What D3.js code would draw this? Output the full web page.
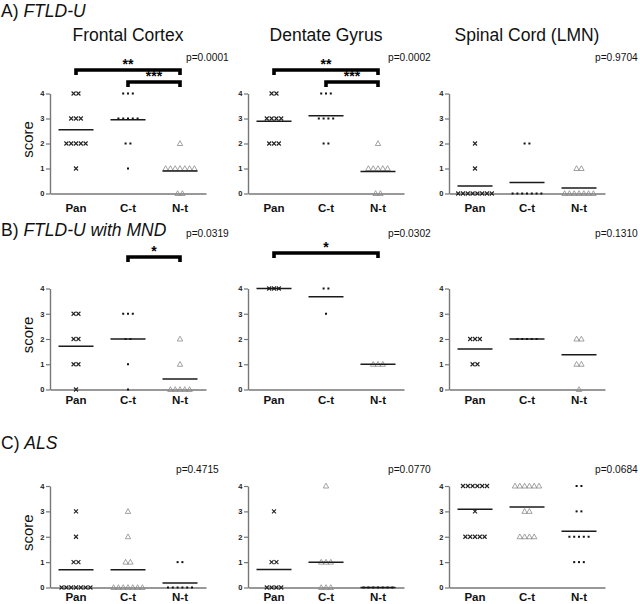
<!DOCTYPE html>
<html><head><meta charset="utf-8">
<script src="https://cdn.jsdelivr.net/npm/d3@7/dist/d3.min.js"></script>
<style>body{margin:0;background:#fff}svg{display:block;font-family:Arial,"Liberation Sans",sans-serif}</style>
</head><body>
<script>
// ---------- data ----------
const rowLetters = ["A)", "B)", "C)"];
const rowNames = ["FTLD-U", "FTLD-U with MND", "ALS"];
const regions = ["Frontal Cortex", "Dentate Gyrus", "Spinal Cord (LMN)"];
const groups = ["Pan", "C-t", "N-t"];
const yTicks = [0, 1, 2, 3, 4];
const pValues = [
  ["p=0.0001", "p=0.0002", "p=0.9704"],
  ["p=0.0319", "p=0.0302", "p=0.1310"],
  ["p=0.4715", "p=0.0770", "p=0.0684"]
];
// individual case scores per panel: [Pan, C-t, N-t]
const scoresA = [
  [[4,4,3,3,3,2,2,2,2,2,1], [4,4,4,3,3,3,3,3,2,2,1], [2,1,1,1,1,1,1,1,0,0]],
  [[4,4,3,3,3,3,2,2,2], [4,4,4,3,3,3,3,2,2], [2,1,1,1,1,1,0,0]],
  [[2,1,0,0,0,0,0,0,0,0], [2,2,0,0,0,0,0,0,0], [1,1,0,0,0,0,0,0,0]]
];
const scoresB = [
  [[3,3,2,2,1,1,0], [3,3,3,2,2,1,0], [2,1,0,0,0,0,0]],
  [[4,4,4], [4,4,3], [1,1,1]],
  [[2,2,2,1,1], [2,2,2,2,2], [2,2,1,1,0]]
];
const scoresC = [
  [[3,2,1,1,0,0,0,0,0,0,0], [3,2,1,1,0,0,0,0,0,0,0], [1,1,0,0,0,0,0,0]],
  [[3,1,1,0,0,0,0], [4,1,1,1,0,0,0], [0,0,0,0,0,0,0]],
  [[4,4,4,4,4,4,3,2,2,2,2,2], [4,4,4,4,4,4,3,3,2,2,2,2], [4,4,3,3,2,2,2,2,2,1,1,1]]
];
// group mean lines
const meansA = [[2.55, 2.95, 0.9], [2.89, 3.11, 0.88], [0.3, 0.44, 0.22]];
const meansB = [[1.71, 2.0, 0.42], [4.0, 3.67, 1.0], [1.6, 2.0, 1.38]];
const meansC = [[0.7, 0.7, 0.18], [0.71, 1.0, 0.0], [3.08, 3.17, 2.22]];
// significance brackets per panel: [from, to, label]
const bracketsA = [[["Pan","N-t","**"], ["C-t","N-t","***"]], [["Pan","N-t","**"], ["C-t","N-t","***"]], []];
const bracketsB = [[["C-t","N-t","*"]], [["Pan","N-t","*"]], []];
const bracketsC = [[], [], []];
// marker kind per group in each row
const markersA = ["cross", "dot", "tri"];
const markersB = ["cross", "dot", "tri"];
const markersC = ["cross", "tri", "dot"];

const scores = [scoresA, scoresB, scoresC];
const means = [meansA, meansB, meansC];
const brackets = [bracketsA, bracketsB, bracketsC];
const markers = [markersA, markersB, markersC];

// ---------- layout ----------
const W = 640, H = 604;
const panelX = [50, 248, 449];
const plotW = 156;
const rowAxis = [[93.5, 193.5], [288.5, 389.5], [486, 587.5]];
const rowTitleY = [11, 230, 443];
const pY = [57, 233, 469];
const pX = [[186, 388, 595], [186, 388, 595], [176, 388, 595]];
const catBase = [211.5, 403.5, 600.5];
const bracketLevels = [[70, 82], [null, null], [null, null]];
const bracketSingleB = [257, 253];

const svg = d3.select("body").append("svg").attr("width", W).attr("height", H);

rowLetters.forEach((letter, r) => {
  const t = svg.append("text").attr("x", 1).attr("y", rowTitleY[r]).attr("dy", "0.36em")
    .attr("font-size", 17.5).attr("fill", "#111");
  t.append("tspan").text(letter + " ");
  t.append("tspan").attr("font-style", "italic").text(rowNames[r]);
});

regions.forEach((reg, c) => {
  svg.append("text").attr("x", panelX[c] + 78).attr("y", 35).attr("dy", "0.36em")
    .attr("text-anchor", "middle").attr("font-size", 17.5).attr("fill", "#111").text(reg);
});

const step = 4.8;

function drawMarker(g, kind, x, y) {
  if (kind === "cross") {
    g.append("path").attr("d", `M${x-2},${y-2}L${x+2},${y+2}M${x-2},${y+2}L${x+2},${y-2}`)
      .attr("stroke", "#222").attr("stroke-width", 1.1).attr("fill", "none");
  } else if (kind === "dot") {
    g.append("rect").attr("x", x - 1).attr("y", y - 1).attr("width", 2).attr("height", 2).attr("fill", "#111");
  } else {
    g.append("path").attr("d", `M${x},${y-2.8}L${x+2.7},${y+2}L${x-2.7},${y+2}Z`)
      .attr("stroke", "#8a8a8a").attr("stroke-width", 0.8).attr("fill", "none");
  }
}

for (let r = 0; r < 3; r++) {
  for (let c = 0; c < 3; c++) {
    const g = svg.append("g");
    const x = d3.scaleBand().domain(groups).range([panelX[c], panelX[c] + plotW]);
    const y = d3.scaleLinear().domain([0, 4]).range([rowAxis[r][1], rowAxis[r][0]]);

    // y axis
    const ya = g.append("g").attr("transform", `translate(${panelX[c]},0)`)
      .call(d3.axisLeft(y).tickValues(yTicks).tickFormat(d3.format("d")).tickSize(4).tickSizeOuter(0).tickPadding(1.5));
    ya.select(".domain").attr("stroke", "#777").attr("stroke-width", 1.4);
    ya.selectAll(".tick line").attr("stroke", "#777").attr("stroke-width", 1.2);
    ya.selectAll(".tick text").attr("font-size", 7.5).attr("font-weight", "bold").attr("fill", "#222")
      .attr("font-family", "Arial, sans-serif");

    // x axis
    const xa = g.append("g").attr("transform", `translate(0,${rowAxis[r][1]})`)
      .call(d3.axisBottom(x).tickSize(0).tickSizeOuter(0));
    xa.select(".domain").attr("stroke", "#777").attr("stroke-width", 1.4);
    xa.selectAll(".tick text").attr("font-size", 11.5).attr("font-weight", "bold").attr("fill", "#111")
      .attr("font-family", "Arial, sans-serif")
      .attr("y", catBase[r] - rowAxis[r][1]).attr("dy", 0);

    // score label
    if (c === 0) {
      g.append("text").attr("transform", `translate(33,${(rowAxis[r][0] + rowAxis[r][1]) / 2 - 4}) rotate(-90)`)
        .attr("text-anchor", "middle").attr("font-size", 15).attr("fill", "#111").text("score");
    }

    // points
    groups.forEach((grp, gi) => {
      const vals = scores[r][c][gi];
      const cx = x(grp) + x.bandwidth() / 2;
      yTicks.forEach(v => {
        const k = vals.filter(s => s === v).length;
        for (let i = 0; i < k; i++) {
          drawMarker(g, markers[r][gi], cx + (i - (k - 1) / 2) * step, y(v));
        }
      });
      // mean line
      g.append("line").attr("x1", cx - 17.5).attr("x2", cx + 17.5)
        .attr("y1", y(means[r][c][gi])).attr("y2", y(means[r][c][gi]))
        .attr("stroke", "#1a1a1a").attr("stroke-width", 1.5);
    });

    // p value
    g.append("text").attr("x", pX[r][c]).attr("y", pY[r]).attr("dy", "0.36em")
      .attr("font-size", 10.2).attr("fill", "#111").text(pValues[r][c]);

    // brackets
    brackets[r][c].forEach((b, bi) => {
      const x1 = x(b[0]) + x.bandwidth() / 2, x2 = x(b[1]) + x.bandwidth() / 2;
      const by = r === 0 ? bracketLevels[0][bi] : bracketSingleB[c];
      g.append("path").attr("d", `M${x1},${by + 5}V${by}H${x2}V${by + 5}`)
        .attr("stroke", "#000").attr("stroke-width", 3.6).attr("fill", "none");
      g.append("text").attr("x", (x1 + x2) / 2).attr("y", by - 1.5)
        .attr("text-anchor", "middle").attr("font-size", 14).attr("font-weight", "bold").attr("fill", "#000")
        .text(b[2]);
    });
  }
}
</script>
</body></html>
